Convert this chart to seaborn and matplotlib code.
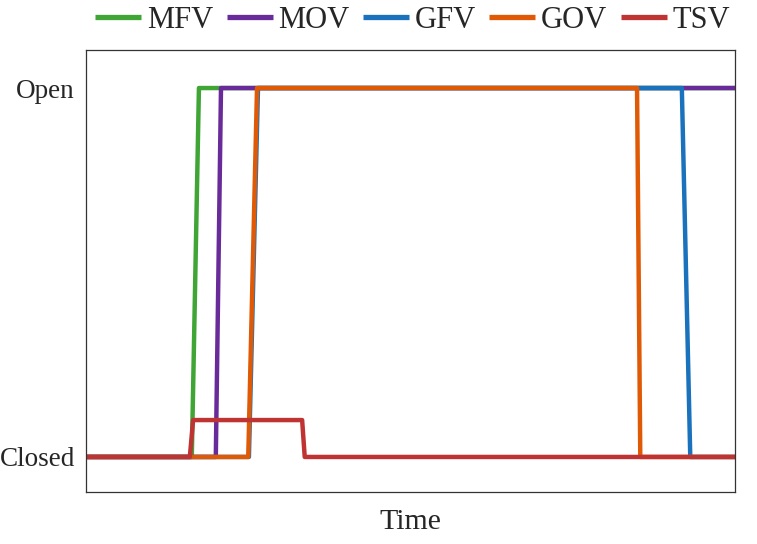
import matplotlib
matplotlib.use("Agg")
import matplotlib.pyplot as plt
import seaborn as sns
import pandas as pd

# valve states over (normalised) time, 0 = closed, 1 = open
series_names = ["MFV", "MOV", "GFV", "GOV", "TSV"]
mfv_t = [0, 16.3, 17.4, 100]
mfv_s = [0, 0, 1, 1]
mov_t = [0, 20.0, 20.8, 100]
mov_s = [0, 0, 1, 1]
gfv_t = [0, 25.1, 26.5, 91.8, 93.1, 100]
gfv_s = [0, 0, 1, 1, 0, 0]
gov_t = [0, 25.0, 26.35, 84.9, 85.4, 100]
gov_s = [0, 0, 1, 1, 0, 0]
tsv_t = [0, 16.0, 16.5, 33.3, 33.7, 100]
tsv_s = [0, 0, 0.1, 0.1, 0, 0]

colors = {
    "MFV": "#3fa535",
    "MOV": "#6a2b9a",
    "GFV": "#1a72bd",
    "GOV": "#e05a06",
    "TSV": "#bf3333",
}

rows = []
for name, ts, ss in zip(series_names,
                        [mfv_t, mov_t, gfv_t, gov_t, tsv_t],
                        [mfv_s, mov_s, gfv_s, gov_s, tsv_s]):
    for t, s in zip(ts, ss):
        rows.append({"Time": t, "State": s, "Valve": name})
df = pd.DataFrame(rows)

sns.set_style("white")
plt.rcParams["font.family"] = ["Liberation Serif", "DejaVu Serif"]

fig = plt.figure(figsize=(7.57, 5.44), dpi=100)
ax = fig.add_axes([0.1136, 0.0956, 0.8574, 0.8124])

sns.lineplot(data=df, x="Time", y="State", hue="Valve", hue_order=series_names,
             palette=colors, estimator=None, sort=False, linewidth=3.2,
             solid_joinstyle="round", solid_capstyle="round", ax=ax, legend=False)

ax.set_xlim(0, 100)
ax.set_ylim(-0.095, 1.103)
ax.set_xticks([])
ax.set_yticks([0, 1])
ax.set_yticklabels(["Closed", "Open"], fontsize=19.5)
ax.tick_params(axis="y", length=0, pad=8)
ax.set_xlabel("Time", fontsize=21.5, labelpad=12)
ax.set_ylabel("")
for sp in ax.spines.values():
    sp.set_color("#333333")
    sp.set_linewidth(0.9)

handles = [plt.Line2D([], [], color=colors[n], linewidth=3.8, solid_capstyle="butt")
           for n in series_names]
fig.legend(handles, series_names, loc="center", bbox_to_anchor=(0.545, 0.962),
           ncol=5, frameon=False, fontsize=22, handlelength=1.5,
           handletextpad=0.18, columnspacing=0.45, borderaxespad=0)

fig.savefig("out.png", dpi=100)
plt.close(fig)
